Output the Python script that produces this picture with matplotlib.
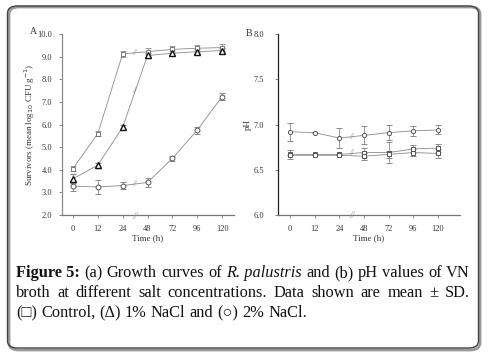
import numpy as np
import matplotlib.pyplot as plt
from matplotlib.patches import FancyBboxPatch

plt.rcParams['font.family'] = ['Liberation Serif', 'DejaVu Serif']

# ---------------- données
time_labels = ["0", "12", "24", "48", "72", "96", "120"]

# (A) croissance, log10 CFU/g
a_control = [4.05, 5.6, 9.12, 9.22, 9.32, 9.37, 9.4]
a_control_sd = [0.1, 0.12, 0.15, 0.15, 0.15, 0.15, 0.15]
a_nacl1 = [3.6, 4.2, 5.88, 9.05, 9.15, 9.22, 9.27]
a_nacl1_sd = [0.2, 0.12, 0.1, 0.1, 0.1, 0.1, 0.1]
a_nacl2 = [3.27, 3.24, 3.3, 3.44, 4.5, 5.75, 7.23]
a_nacl2_sd = [0.2, 0.3, 0.15, 0.2, 0.12, 0.15, 0.15]

# (B) pH
b_control = [6.67, 6.67, 6.67, 6.69, 6.69, 6.73, 6.74]
b_control_sd = [0.05, 0.0, 0.0, 0.05, 0.12, 0.04, 0.04]
b_nacl1 = [6.66, 6.66, 6.66, 6.65, 6.67, 6.69, 6.68]
b_nacl1_sd = [0.0, 0.0, 0.0, 0.04, 0.04, 0.04, 0.05]
b_nacl2 = [6.92, 6.91, 6.85, 6.88, 6.91, 6.93, 6.94]
b_nacl2_sd = [0.1, 0.0, 0.11, 0.1, 0.08, 0.055, 0.05]

caption_lines = [
    [("Figure 5:", "bold"), ("(a)", ""), ("Growth", ""), ("curves", ""), ("of", ""),
     ("R. palustris", "italic"), ("and", ""), ("(b)", ""), ("pH", ""), ("values", ""),
     ("of", ""), ("VN", "")],
    [("broth", ""), ("at", ""), ("different", ""), ("salt", ""), ("concentrations.", ""),
     ("Data", ""), ("shown", ""), ("are", ""), ("mean", ""), ("±", ""), ("SD.", "")],
    [("(□)", ""), ("Control,", ""), ("(Δ)", ""), ("1%", ""), ("NaCl", ""), ("and", ""),
     ("(○)", ""), ("2%", ""), ("NaCl.", "")],
]

W, H = 491, 357
fig = plt.figure(figsize=(W / 100, H / 100), dpi=100)

# cadre arrondi
shadow = FancyBboxPatch((9 / W, 1 - 350 / H), 471 / W, 343 / H,
                        boxstyle="round,pad=0,rounding_size=0.02",
                        transform=fig.transFigure, fc="none", ec="#9a9a9a", lw=2.0)
frame = FancyBboxPatch((7.5 / W, 1 - 348 / H), 471 / W, 342 / H,
                       boxstyle="round,pad=0,rounding_size=0.02",
                       transform=fig.transFigure, fc="none", ec="#444444", lw=1.0)
fig.patches.extend([shadow, frame])

x = np.arange(len(time_labels))


def style_axis(ax, spine_color):
    for s in ["top", "right"]:
        ax.spines[s].set_visible(False)
    ax.spines["left"].set_color(spine_color)
    ax.spines["bottom"].set_color("#777777")
    ax.spines["left"].set_linewidth(0.9)
    ax.spines["bottom"].set_linewidth(0.9)
    ax.set_xticks(x)
    ax.set_xticklabels(time_labels)
    ax.tick_params(axis="both", length=2, width=0.6, color="#777777",
                   labelsize=6, labelcolor="#333333", pad=5)
    ax.set_xlabel("Time (h)", fontsize=6.5, color="#333333", labelpad=1)


def serie(ax, y, sd, marker, ms, mec, mew):
    ax.errorbar(x, y, yerr=sd, color="#8a8a8a", lw=0.6, elinewidth=0.6,
                capsize=2, capthick=0.6, marker=marker, ms=ms, mfc="white",
                mec=mec, mew=mew, zorder=3)


def brk(ax, y, yb):
    # marques de coupure entre 24 et 48 h
    for yy in y:
        ax.text(2.5, yy, "//", fontsize=6, color="#999999", ha="center",
                va="center", style="italic")
    ax.text(2.5, yb, "//", fontsize=7, color="#999999", ha="center",
            va="center", style="italic", clip_on=False)


# ---------------- panneau A
axA = fig.add_axes([62 / W, 1 - 215 / H, 172 / W, 181 / H])
style_axis(axA, "#8a8a8a")
serie(axA, a_control, a_control_sd, "s", 3.2, "#666666", 0.6)
serie(axA, a_nacl1, a_nacl1_sd, "^", 5, "#111111", 1.0)
serie(axA, a_nacl2, a_nacl2_sd, "o", 3.5, "#555555", 0.7)
axA.set_xlim(-0.44, 6.48)
axA.set_ylim(2, 10)
axA.set_yticks(np.arange(2, 10.5, 1))
axA.set_yticklabels(["%.1f" % v for v in np.arange(2, 10.5, 1)])
axA.set_ylabel("Survivors (mean log$_{10}$ CFU g$^{-1}$)", fontsize=6.5,
               color="#333333", labelpad=0)
brk(axA, [(a_control[2] + a_control[3]) / 2, (a_nacl1[2] + a_nacl1[3]) / 2,
          (a_nacl2[2] + a_nacl2[3]) / 2], 1.95)
fig.text(33 / W, 1 - 32 / H, "A", fontsize=7, color="#333333", ha="center", va="center")

# ---------------- panneau B
axB = fig.add_axes([278 / W, 1 - 215 / H, 182 / W, 181 / H])
style_axis(axB, "#222222")
serie(axB, b_control, b_control_sd, "s", 3, "#555555", 0.7)
serie(axB, b_nacl1, b_nacl1_sd, "s", 3, "#555555", 0.7)
serie(axB, b_nacl2, b_nacl2_sd, "o", 3, "#555555", 0.7)
axB.set_xlim(-0.49, 6.89)
axB.set_ylim(6, 8)
axB.set_yticks([6, 6.5, 7, 7.5, 8])
axB.set_yticklabels(["6.0", "6.5", "7.0", "7.5", "8.0"])
axB.tick_params(axis="y", pad=8)
axB.set_ylabel("pH", fontsize=6.5, color="#333333", labelpad=1)
brk(axB, [(b_control[2] + b_control[3]) / 2, (b_nacl2[2] + b_nacl2[3]) / 2], 5.99)
fig.text(249 / W, 1 - 33 / H, "B", fontsize=7, color="#333333", ha="center", va="center")

# ---------------- légende justifiée
renderer = fig.canvas.get_renderer()
x0, x1 = 16, 470
baselines = [277, 297, 317]
fs = 11.8
for i, words in enumerate(caption_lines):
    texts = []
    for w, st in words:
        kw = {}
        if st == "bold":
            kw["fontweight"] = "bold"
        if st == "italic":
            kw["style"] = "italic"
        t = fig.text(0, 1 - baselines[i] / H, w, fontsize=fs, va="baseline",
                     ha="left", color="#111111", **kw)
        texts.append(t)
    widths = [t.get_window_extent(renderer).width for t in texts]
    if i < len(caption_lines) - 1:
        gap = (x1 - x0 - sum(widths)) / (len(texts) - 1)
    else:
        gap = 4.1
    pos = x0
    for t, wd in zip(texts, widths):
        t.set_x(pos / W)
        pos += wd + gap

fig.savefig("out.png", dpi=100)
